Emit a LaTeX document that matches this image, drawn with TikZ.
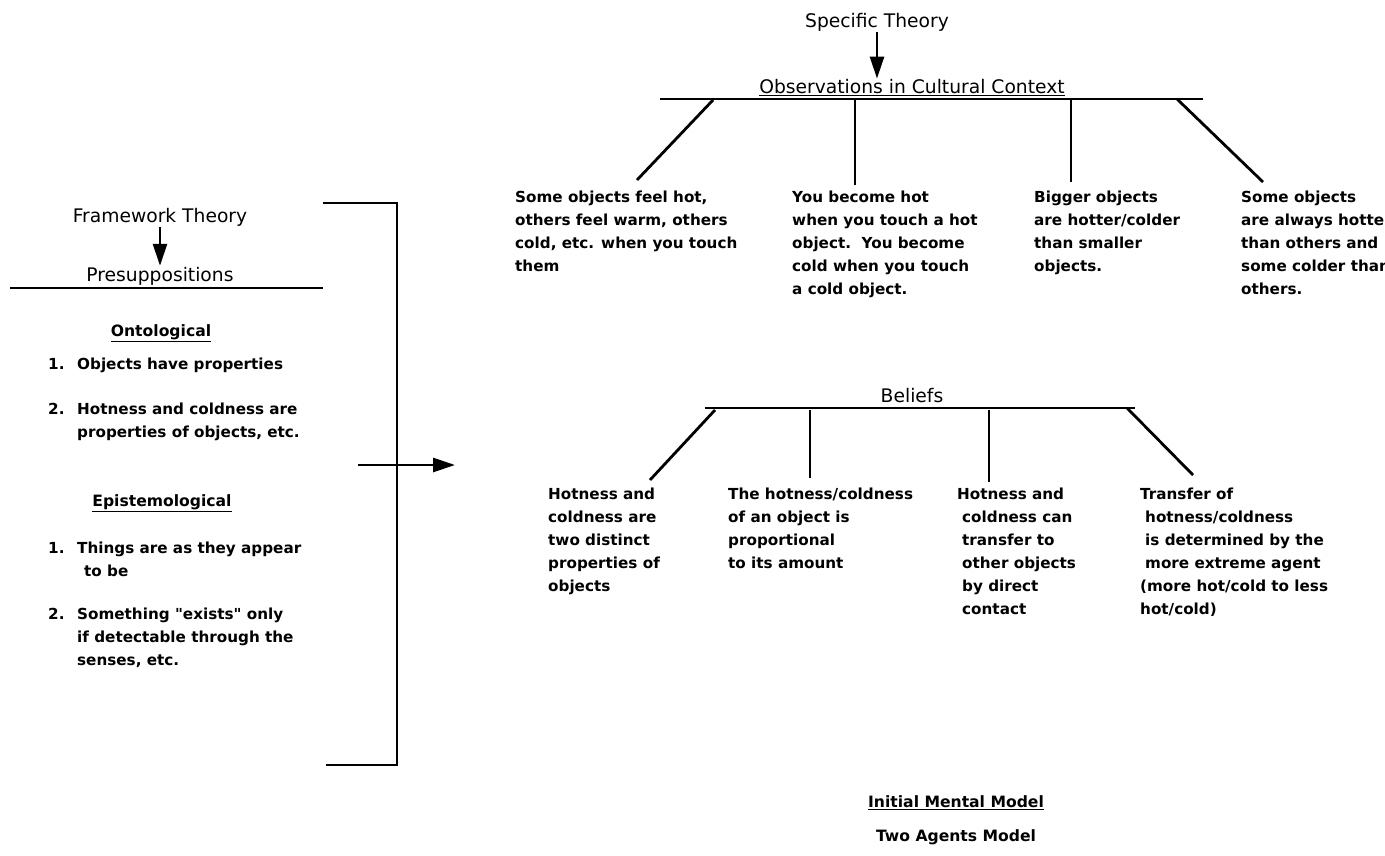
\documentclass[tikz,border=0pt]{standalone}
\usepackage{fontspec}
\setmainfont{DejaVu Sans}
\usetikzlibrary{positioning,arrows.meta,calc}

\newcommand{\lnum}[1]{\makebox[29pt][l]{#1}}
\newcommand{\lind}{\hspace*{29pt}}

\begin{document}
\begin{tikzpicture}[
  x=1pt, y=-1pt,
  >={Triangle[length=22pt,width=14pt]},
  ttl/.style={font=\fontsize{18.7}{22}\selectfont, inner sep=1pt},
  hd/.style={font=\bfseries\fontsize{15.6}{20}\selectfont, inner sep=1pt},
  txt/.style={font=\bfseries\fontsize{15.2}{23}\selectfont, align=left, inner sep=0pt, anchor=north west},
  bar/.style={line width=2.8pt},
  arr/.style={->, line width=2.8pt},
]
\useasboundingbox (0,0) rectangle (1385,855);

%% ---------- left: framework theory ----------
\node[ttl] (frame) at (160,217) {Framework Theory};
\node[ttl] (presup) at (160,276) {Presuppositions};
\draw[arr] (frame) -- (presup.north);
\coordinate (pbarL) at (10,288);
\coordinate (pbarR) at (323,288);
\draw[bar] (pbarL) -- (pbarR);

\node[hd] (onto) at (161,333) {\underline{Ontological}};
\node[txt] (ont1) at (48,358) {\lnum{1.}Objects have properties};
\node[txt] (ont2) at (48,403) {\lnum{2.}Hotness and coldness are\\ \lind properties of objects, etc.};

\node[hd] (epist) at (162,503) {\underline{Epistemological}};
\node[txt] (epi1) at (48,542) {\lnum{1.}Things are as they appear\\ \hspace*{36pt}to be};
\node[txt] (epi2) at (48,608) {\lnum{2.}Something \textquotedbl exists\textquotedbl\ only\\ \lind if detectable through the\\ \lind senses, etc.};

%% ---------- bracket and arrow ----------
\coordinate (brA) at (323,203);
\coordinate (brB) at (397,203);
\coordinate (brC) at (397,765);
\coordinate (brD) at (326,765);
\draw[bar] (brA) -- (brB) -- (brC) -- (brD);
\coordinate (goS) at (358,465);
\coordinate (goE) at (455,465);
\draw[arr] (goS) -- (goE);

%% ---------- right: specific theory / observations ----------
\node[ttl] (spec) at (877,22) {Specific Theory};
\node[ttl] (obs) at (912,88) {\underline{Observations in Cultural Context}};
\draw[arr] (spec) -- (spec |- obs.north);
\draw[bar] (660,99) coordinate (obarL) -- (1203,99) coordinate (obarR);

\node[txt] (obs1) at (515,191) {Some objects feel hot,\\ others feel warm, others\\ cold, etc. when you touch\\ them};
\node[txt] (obs2) at (792,191) {You become hot\\ when you touch a hot\\ object.\ \ You become\\ cold when you touch\\ a cold object.};
\node[txt] (obs3) at (1034,191) {Bigger objects\\ are hotter/colder\\ than smaller\\ objects.};
\node[txt] (obs4) at (1241,191) {Some objects\\ are always hotter\\ than others and\\ some colder than\\ others.};

\coordinate (ob1) at (713,100); \coordinate (oe1) at (637,180);
\coordinate (ob2) at (855,100); \coordinate (oe2) at (855,185);
\coordinate (ob3) at (1071,100); \coordinate (oe3) at (1071,182);
\coordinate (ob4) at (1177,99); \coordinate (oe4) at (1263,182);
\foreach \i in {1,...,4} \draw[bar] (ob\i) -- (oe\i);

%% ---------- beliefs ----------
\node[ttl] (bel) at (912,396) {Beliefs};
\draw[bar] (705,408) coordinate (bbarL) -- (1135,408) coordinate (bbarR);

\node[txt] (bel1) at (548,488) {Hotness and\\ coldness are\\ two distinct\\ properties of\\ objects};
\node[txt] (bel2) at (728,488) {The hotness/coldness\\ of an object is\\ proportional\\ to its amount};
\node[txt] (bel3) at (957,488) {Hotness and\\ \hspace*{5pt}coldness can\\ \hspace*{5pt}transfer to\\ \hspace*{5pt}other objects\\ \hspace*{5pt}by direct\\ \hspace*{5pt}contact};
\node[txt] (bel4) at (1140,488) {Transfer of\\ \hspace*{5pt}hotness/coldness\\ \hspace*{5pt}is determined by the\\ \hspace*{5pt}more extreme agent\\ (more hot/cold to less\\ hot/cold)};

\coordinate (bb1) at (715,410); \coordinate (be1) at (650,480);
\coordinate (bb2) at (810,410); \coordinate (be2) at (810,478);
\coordinate (bb3) at (989,410); \coordinate (be3) at (989,482);
\coordinate (bb4) at (1127,408); \coordinate (be4) at (1193,475);
\foreach \i in {1,...,4} \draw[bar] (bb\i) -- (be\i);

%% ---------- initial mental model ----------
\node[hd] (init) at (956,803) {\underline{Initial Mental Model}};
\node[hd] (two) at (956,837) {Two Agents Model};

\end{tikzpicture}
\end{document}
